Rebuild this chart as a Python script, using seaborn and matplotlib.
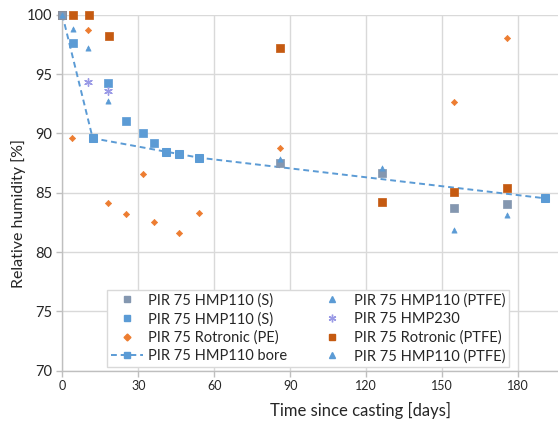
import matplotlib
matplotlib.use("Agg")
import matplotlib.pyplot as plt
import seaborn as sns
from matplotlib.lines import Line2D

sns.set_theme(style="white")
plt.rcParams['font.family'] = ['Lato', 'DejaVu Sans']

# ---- data (days since casting, relative humidity %) ----
s_gray_x = [0, 86.1, 126.1, 154.8, 175.4]
s_gray_y = [100, 87.53, 86.69, 83.72, 84.03]

s_blue_x = [4.1, 18.2, 25.1, 32.0, 36.1]
s_blue_y = [97.59, 94.27, 91.07, 90.03, 89.22]

pe_x = [3.9, 10.3, 18.2, 25.1, 32.0, 36.1, 46.1, 54.0, 86.0, 154.8, 175.4]
pe_y = [89.59, 98.74, 84.11, 83.21, 86.6, 82.56, 81.58, 83.29, 88.77, 92.62, 98.01]

bore_x = [0, 12.0, 40.8, 46.1, 54.0, 190.5]
bore_y = [100, 89.59, 88.46, 88.26, 87.95, 84.53]

ptfe1_x = [86.1, 126.1, 154.8, 175.4]
ptfe1_y = [87.84, 87.06, 81.86, 83.13]

hmp230_x = [10.0, 18.2]
hmp230_y = [94.36, 93.6]

rot_ptfe_x = [0, 4.1, 10.4, 18.3, 86.1, 126.1, 154.8, 175.5]
rot_ptfe_y = [100, 100, 100, 98.2, 97.17, 84.25, 85.04, 85.43]

ptfe2_x = [0, 4.1, 10.3, 18.2]
ptfe2_y = [100, 98.8, 97.17, 92.76]

labels = ["PIR 75 HMP110 (S)", "PIR 75 HMP110 (S)", "PIR 75 Rotronic (PE)",
          "PIR 75 HMP110 bore", "PIR 75 HMP110 (PTFE)", "PIR 75 HMP230",
          "PIR 75 Rotronic (PTFE)", "PIR 75 HMP110 (PTFE)"]
x_ticks = [0, 30, 60, 90, 120, 150, 180]
y_ticks = [70, 75, 80, 85, 90, 95, 100]

# ---- colours ----
c_gray = "#8497B0"
c_blue = "#5B9BD5"
c_orange = "#ED7D31"
c_dorange = "#C55A11"
c_lav = "#9A9AE6"

W, H = 558, 421
x0, y_top, y_bot = 62.3, 14.7, 370.7
fig = plt.figure(figsize=(W/100, H/100), dpi=100)
ax = fig.add_axes([x0/W, 1-y_bot/H, 1-x0/W, (y_bot-y_top)/H])

sq = 26
sns.lineplot(x=bore_x, y=bore_y, ax=ax, color=c_blue, linestyle=(0, (3, 2)), lw=1.4,
             marker='s', markersize=6, markeredgecolor=c_blue, estimator=None, sort=False,
             clip_on=False, zorder=3)
sns.scatterplot(x=s_blue_x, y=s_blue_y, ax=ax, color=c_blue, marker='s', s=sq,
                edgecolor=c_blue, linewidth=0.5, clip_on=False, zorder=4)
sns.scatterplot(x=rot_ptfe_x, y=rot_ptfe_y, ax=ax, color=c_dorange, marker='s', s=sq,
                edgecolor=c_dorange, linewidth=0.5, clip_on=False, zorder=4)
sns.scatterplot(x=s_gray_x, y=s_gray_y, ax=ax, color=c_gray, marker='s', s=sq,
                edgecolor=c_gray, linewidth=0.5, clip_on=False, zorder=5)
sns.scatterplot(x=pe_x, y=pe_y, ax=ax, color=c_orange, marker='D', s=10,
                edgecolor=c_orange, linewidth=0.5, clip_on=False, zorder=5)
sns.scatterplot(x=ptfe1_x, y=ptfe1_y, ax=ax, color=c_blue, marker='^', s=14,
                edgecolor=c_blue, linewidth=0.5, clip_on=False, zorder=6)
sns.scatterplot(x=ptfe2_x, y=ptfe2_y, ax=ax, color=c_blue, marker='^', s=14,
                edgecolor=c_blue, linewidth=0.5, clip_on=False, zorder=6)
sns.scatterplot(x=hmp230_x, y=hmp230_y, ax=ax, color=c_lav, marker=(6, 2, 0), s=30,
                linewidth=1.0, clip_on=False, zorder=6)

ax.set_xlim(0, (W-x0)/2.533)
ax.set_ylim(70, 100)
ax.set_xticks(x_ticks)
ax.set_yticks(y_ticks)
ax.grid(True, color="#D9D9D9", lw=1.0)
ax.set_axisbelow(True)
for s in ["top", "right"]:
    ax.spines[s].set_visible(False)
for s in ["left", "bottom"]:
    ax.spines[s].set_color("#BFBFBF")
    ax.spines[s].set_linewidth(1.0)
ax.tick_params(axis='both', direction='out', length=4, width=1, color="#BFBFBF",
               bottom=True, left=True, labelcolor="#262626")
ax.tick_params(axis='y', labelsize=10.5, pad=3)
ax.tick_params(axis='x', labelsize=9, pad=3)
ax.set_xlabel("Time since casting [days]", fontsize=12, color="#262626")
ax.set_ylabel("Relative humidity [%]", fontsize=11.5, color="#262626")
# label centres as in the reference (x ~ 360 px, y ~ 410 px; y-label at x ~ 19 px, y ~ 213 px)
ax.xaxis.set_label_coords((360-x0)/(W-x0), -(410-y_bot)/(y_bot-y_top), transform=ax.transAxes)
ax.xaxis.label.set_va('center')
ax.yaxis.set_label_coords(-(x0-19)/(W-x0), (y_bot-213)/(y_bot-y_top), transform=ax.transAxes)
ax.yaxis.label.set_va('center')

handles = [
    Line2D([], [], ls='none', marker='s', ms=5, color=c_gray),
    Line2D([], [], ls='none', marker='s', ms=5, color=c_blue),
    Line2D([], [], ls='none', marker='D', ms=3.5, color=c_orange),
    Line2D([], [], ls=(0, (3, 2)), lw=1.4, marker='s', ms=5, color=c_blue),
    Line2D([], [], ls='none', marker='^', ms=4, color=c_blue),
    Line2D([], [], ls='none', marker=(6, 2, 0), ms=5.5, mew=1.0, color=c_lav),
    Line2D([], [], ls='none', marker='s', ms=5, color=c_dorange),
    Line2D([], [], ls='none', marker='^', ms=4, color=c_blue),
]
leg = ax.legend(handles, labels, ncol=2, loc='lower left',
                bbox_to_anchor=(0.090, 0.0104, 0.811, 0.236), mode='expand',
                fontsize=10.5, frameon=True, fancybox=False, edgecolor="#D9D9D9",
                framealpha=1, handlelength=2.2, handletextpad=0.4, labelspacing=0.3,
                borderpad=0.25, columnspacing=1.0, borderaxespad=0)
leg.get_frame().set_linewidth(1.0)
for t in leg.get_texts():
    t.set_color("#262626")

fig.savefig("out.png", dpi=100)
